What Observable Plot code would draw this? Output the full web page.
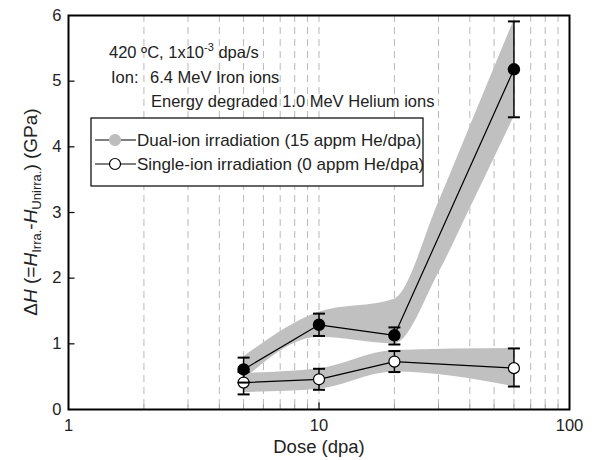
<!DOCTYPE html>
<html><head><meta charset="utf-8">
<script src="https://cdn.jsdelivr.net/npm/d3@7"></script>
<script src="https://cdn.jsdelivr.net/npm/@observablehq/plot@0.6"></script>
<style>body{margin:0;background:#fff}</style>
</head><body><div id="chart"></div>
<script>
const doses = [5, 10, 20, 60];
const dualMean = [0.61, 1.29, 1.13, 5.18];
const dualLo = [0.41, 1.12, 0.99, 4.45];
const dualHi = [0.79, 1.46, 1.25, 5.91];
const singleMean = [0.41, 0.46, 0.73, 0.63];
const singleLo = [0.23, 0.30, 0.57, 0.35];
const singleHi = [0.57, 0.62, 0.89, 0.93];
const dualBandDoses = [5, 10, 20, 30, 40, 60];
const dualBandLo = [0.45, 1.10, 1.00, 2.07, 3.05, 4.45];
const dualBandHi = [0.80, 1.48, 1.68, 3.15, 4.30, 5.92];
const singleBandDoses = [5, 10, 20, 60];
const singleBandLo = [0.26, 0.31, 0.57, 0.35];
const singleBandHi = [0.55, 0.62, 0.90, 0.93];
const gridDoses = [2,3,4,5,6,7,8,9,10,20,30,40,50,60,70,80,90];
const minorDoses = [2,3,4,5,6,7,8,9,20,30,40,50,60,70,80,90];
const yTicks = [0,1,2,3,4,5,6];
const xTicks = [1,10,100];
const seriesNames = ["Dual-ion irradiation (15 appm He/dpa)", "Single-ion irradiation (0 appm He/dpa)"];

const dual = doses.map((d,i)=>({dose:d, y:dualMean[i], lo:dualLo[i], hi:dualHi[i]}));
const single = doses.map((d,i)=>({dose:d, y:singleMean[i], lo:singleLo[i], hi:singleHi[i]}));
const dualBand = dualBandDoses.map((d,i)=>({dose:d, lo:dualBandLo[i], hi:dualBandHi[i]}));
const singleBand = singleBandDoses.map((d,i)=>({dose:d, lo:singleBandLo[i], hi:singleBandHi[i]}));

const hline = {draw(ctx, size){ const r = Math.sqrt(size/Math.PI); ctx.moveTo(-r,0); ctx.lineTo(r,0);} };
const vline = {draw(ctx, size){ const r = Math.sqrt(size/Math.PI); ctx.moveTo(0,-r); ctx.lineTo(0,r);} };
const font = "Liberation Sans, Arial, sans-serif";

const plot = Plot.plot({
  width: 599, height: 460,
  marginLeft: 68, marginRight: 30, marginTop: 15, marginBottom: 51,
  style: {fontFamily: font, fontSize: "16.5px", color: "#222", background: "#fff"},
  x: {type: "log", domain: [1, 100]},
  y: {domain: [0, 6]},
  marks: [
    Plot.ruleX(gridDoses, {x: d=>d, stroke: "#b8b8b8", strokeWidth: 1, strokeDasharray: "7,5"}),
    Plot.areaY(dualBand, {x: "dose", y1: "lo", y2: "hi", fill: "#c0c0c0", curve: "monotone-x"}),
    Plot.areaY(singleBand, {x: "dose", y1: "lo", y2: "hi", fill: "#c0c0c0", curve: "monotone-x"}),
    Plot.line(dual, {x: "dose", y: "y", stroke: "#000", strokeWidth: 1.2}),
    Plot.line(single, {x: "dose", y: "y", stroke: "#000", strokeWidth: 1.2}),
    Plot.ruleX(single, {x: "dose", y1: "lo", y2: "hi", stroke: "#000", strokeWidth: 1.5}),
    Plot.dot(single, {x: "dose", y: "lo", symbol: hline, r: 6, stroke: "#000", strokeWidth: 2}),
    Plot.dot(single, {x: "dose", y: "hi", symbol: hline, r: 6, stroke: "#000", strokeWidth: 2}),
    Plot.ruleX(dual, {x: "dose", y1: "lo", y2: "hi", stroke: "#000", strokeWidth: 1.5}),
    Plot.dot(single, {x: "dose", y: "y", r: 5.5, fill: "#fff", stroke: "#000", strokeWidth: 1.2}),
    Plot.dot(dual, {x: "dose", y: "lo", symbol: hline, r: 6, stroke: "#000", strokeWidth: 2}),
    Plot.dot(dual, {x: "dose", y: "hi", symbol: hline, r: 6, stroke: "#000", strokeWidth: 2}),
    Plot.dot(dual, {x: "dose", y: "y", r: 5.5, fill: "#000", stroke: "#000"}),
    Plot.dot(yTicks.slice(1,-1), {x: ()=>1, y: d=>d, symbol: hline, r: 3, dx: 3, stroke: "#000", strokeWidth: 1.2}),
    Plot.dot(minorDoses, {x: d=>d, y: ()=>0, symbol: vline, r: 2.5, dy: -2.5, stroke: "#999", strokeWidth: 1}),
    Plot.dot([10], {x: d=>d, y: ()=>0, symbol: vline, r: 3.5, dy: -3.5, stroke: "#000", strokeWidth: 1.2}),
    Plot.axisY({ticks: yTicks, tickSize: 0, tickPadding: 7, label: null, tickFormat: d=>String(d)}),
    Plot.axisX({ticks: xTicks, tickSize: 0, tickPadding: 10, label: null, tickFormat: d=>String(d)}),
    Plot.frame({stroke: "#000", strokeWidth: 2})
  ]
});
document.getElementById("chart").appendChild(plot);

const svg = d3.select(plot);
// y label
const yl = svg.append("text").attr("transform", "translate(37,212) rotate(-90)")
  .attr("text-anchor", "middle").attr("font-size", 19).attr("font-family", font).attr("fill", "#222");
yl.append("tspan").text("Δ");
yl.append("tspan").attr("font-style", "italic").text("H");
yl.append("tspan").text(" (=");
yl.append("tspan").attr("font-style", "italic").text("H");
yl.append("tspan").attr("font-size", 13).attr("dy", 4).text("Irra.");
yl.append("tspan").attr("dy", -4).text("-");
yl.append("tspan").attr("font-style", "italic").text("H");
yl.append("tspan").attr("font-size", 13).attr("dy", 4).text("Unirra.");
yl.append("tspan").attr("dy", -4).text(") (GPa)");
// x label
svg.append("text").attr("x", 319).attr("y", 453).attr("text-anchor", "middle")
  .attr("font-size", 18.5).attr("font-family", font).attr("fill", "#222").text("Dose (dpa)");
// annotations
const ann = svg.append("g").attr("font-size", 16.5).attr("font-family", font).attr("fill", "#222").attr("text-anchor", "start");
const a1 = ann.append("text").attr("x", 109).attr("y", 58);
a1.append("tspan").text("420 ºC, 1x10");
a1.append("tspan").attr("font-size", 11).attr("dy", -7).text("-3");
a1.append("tspan").attr("dy", 7).text(" dpa/s");
ann.append("text").attr("x", 111).attr("y", 83).text("Ion:");
ann.append("text").attr("x", 150).attr("y", 83).text("6.4 MeV Iron ions");
ann.append("text").attr("x", 151).attr("y", 107).text("Energy degraded 1.0 MeV Helium ions");
// legend
const lg = svg.append("g").attr("font-family", font).attr("font-size", 17).attr("fill", "#222").attr("text-anchor", "start");
lg.append("rect").attr("x", 91).attr("y", 118).attr("width", 332).attr("height", 68)
  .attr("fill", "#fff").attr("stroke", "#000").attr("stroke-width", 1.2);
[[140, "#bdbdbd", "#bdbdbd"], [164, "#fff", "#000"]].forEach(([y, f, s], i) => {
  lg.append("line").attr("x1", 95).attr("x2", 136).attr("y1", y).attr("y2", y).attr("stroke", "#000").attr("stroke-width", 1.2);
  lg.append("circle").attr("cx", 115).attr("cy", y).attr("r", 5.5).attr("fill", f).attr("stroke", s).attr("stroke-width", 1.2);
  lg.append("text").attr("x", 137).attr("y", y + 6).text(seriesNames[i]);
});
</script></body></html>
